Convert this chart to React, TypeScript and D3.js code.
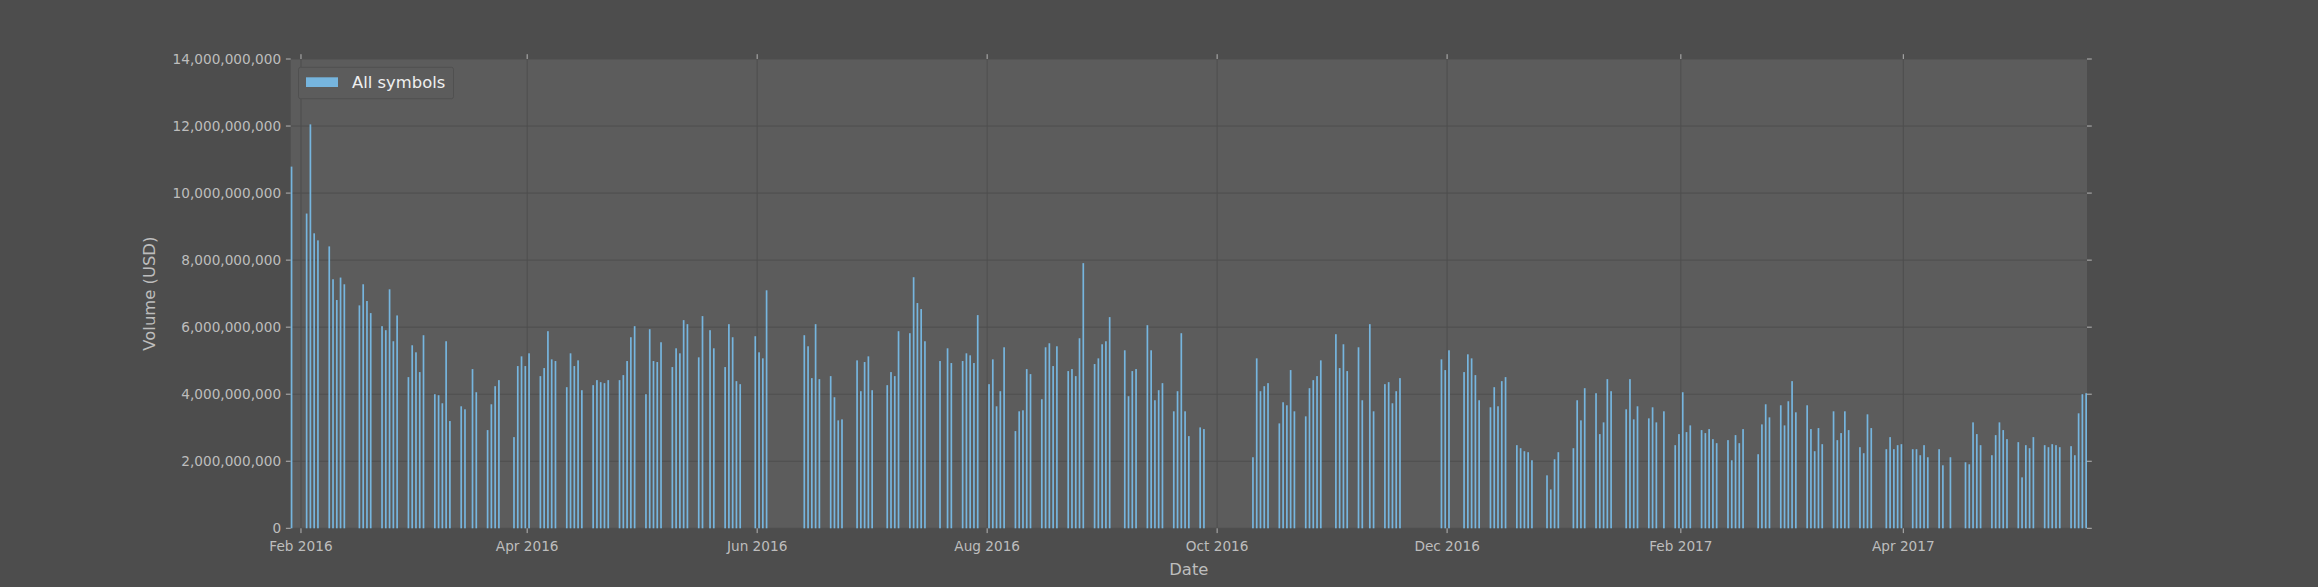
import React from "react";
import * as d3 from "d3";

// Daily traded volume (USD, billions)
const volumes2016: [string, number][] = [
  ["2016-01-29", 10.79],
  ["2016-02-02", 9.39], ["2016-02-03", 12.05], ["2016-02-04", 8.8], ["2016-02-05", 8.59],
  ["2016-02-08", 8.41], ["2016-02-09", 7.43], ["2016-02-10", 6.81], ["2016-02-11", 7.48], ["2016-02-12", 7.28],
  ["2016-02-16", 6.65], ["2016-02-17", 7.28], ["2016-02-18", 6.78], ["2016-02-19", 6.42],
  ["2016-02-22", 6.03], ["2016-02-23", 5.91], ["2016-02-24", 7.13], ["2016-02-25", 5.58], ["2016-02-26", 6.35],
  ["2016-02-29", 4.51], ["2016-03-01", 5.46], ["2016-03-02", 5.25], ["2016-03-03", 4.66], ["2016-03-04", 5.76],
  ["2016-03-07", 4.0], ["2016-03-08", 3.97], ["2016-03-09", 3.73], ["2016-03-10", 5.58], ["2016-03-11", 3.2],
  ["2016-03-14", 3.64], ["2016-03-15", 3.55], ["2016-03-17", 4.75], ["2016-03-18", 4.06],
  ["2016-03-21", 2.93], ["2016-03-22", 3.7], ["2016-03-23", 4.24], ["2016-03-24", 4.42],
  ["2016-03-28", 2.72], ["2016-03-29", 4.84], ["2016-03-30", 5.13], ["2016-03-31", 4.84], ["2016-04-01", 5.22],
  ["2016-04-04", 4.54], ["2016-04-05", 4.78], ["2016-04-06", 5.88], ["2016-04-07", 5.04], ["2016-04-08", 4.99],
  ["2016-04-11", 4.21], ["2016-04-12", 5.22], ["2016-04-13", 4.84], ["2016-04-14", 5.01], ["2016-04-15", 4.12],
  ["2016-04-18", 4.27], ["2016-04-19", 4.42], ["2016-04-20", 4.36], ["2016-04-21", 4.33], ["2016-04-22", 4.42],
  ["2016-04-25", 4.42], ["2016-04-26", 4.57], ["2016-04-27", 4.99], ["2016-04-28", 5.7], ["2016-04-29", 6.03],
  ["2016-05-02", 4.0], ["2016-05-03", 5.94], ["2016-05-04", 4.99], ["2016-05-05", 4.96], ["2016-05-06", 5.55],
  ["2016-05-09", 4.81], ["2016-05-10", 5.37], ["2016-05-11", 5.22], ["2016-05-12", 6.21], ["2016-05-13", 6.09],
  ["2016-05-16", 5.1], ["2016-05-17", 6.33], ["2016-05-19", 5.91], ["2016-05-20", 5.37],
  ["2016-05-23", 4.81], ["2016-05-24", 6.09], ["2016-05-25", 5.7], ["2016-05-26", 4.39], ["2016-05-27", 4.3],
  ["2016-05-31", 5.73], ["2016-06-01", 5.25], ["2016-06-02", 5.07], ["2016-06-03", 7.1],
  ["2016-06-13", 5.76], ["2016-06-14", 5.43], ["2016-06-15", 4.48], ["2016-06-16", 6.09], ["2016-06-17", 4.45],
  ["2016-06-20", 4.54], ["2016-06-21", 3.91], ["2016-06-22", 3.22], ["2016-06-23", 3.25],
  ["2016-06-27", 5.01], ["2016-06-28", 4.09], ["2016-06-29", 4.96], ["2016-06-30", 5.13], ["2016-07-01", 4.12],
  ["2016-07-05", 4.27], ["2016-07-06", 4.66], ["2016-07-07", 4.54], ["2016-07-08", 5.88],
  ["2016-07-11", 5.82], ["2016-07-12", 7.49], ["2016-07-13", 6.72], ["2016-07-14", 6.54], ["2016-07-15", 5.58],
  ["2016-07-19", 4.99], ["2016-07-21", 5.37], ["2016-07-22", 4.93],
  ["2016-07-25", 4.99], ["2016-07-26", 5.22], ["2016-07-27", 5.16], ["2016-07-28", 4.93], ["2016-07-29", 6.36],
  ["2016-08-01", 4.3], ["2016-08-02", 5.04], ["2016-08-03", 3.64], ["2016-08-04", 4.09], ["2016-08-05", 5.4],
  ["2016-08-08", 2.9], ["2016-08-09", 3.49], ["2016-08-10", 3.52], ["2016-08-11", 4.75], ["2016-08-12", 4.6],
  ["2016-08-15", 3.85], ["2016-08-16", 5.4], ["2016-08-17", 5.52], ["2016-08-18", 4.84], ["2016-08-19", 5.43],
  ["2016-08-22", 4.69], ["2016-08-23", 4.75], ["2016-08-24", 4.54], ["2016-08-25", 5.67], ["2016-08-26", 7.91],
  ["2016-08-29", 4.9], ["2016-08-30", 5.07], ["2016-08-31", 5.49], ["2016-09-01", 5.58], ["2016-09-02", 6.3],
  ["2016-09-06", 5.31], ["2016-09-07", 3.94], ["2016-09-08", 4.69], ["2016-09-09", 4.75],
  ["2016-09-12", 6.06], ["2016-09-13", 5.31], ["2016-09-14", 3.82], ["2016-09-15", 4.12], ["2016-09-16", 4.33],
  ["2016-09-19", 3.49], ["2016-09-20", 4.09], ["2016-09-21", 5.82], ["2016-09-22", 3.49], ["2016-09-23", 2.75],
  ["2016-09-26", 3.01], ["2016-09-27", 2.96],
  ["2016-10-10", 2.12], ["2016-10-11", 5.07], ["2016-10-12", 4.09], ["2016-10-13", 4.24], ["2016-10-14", 4.33],
  ["2016-10-17", 3.13], ["2016-10-18", 3.76], ["2016-10-19", 3.67], ["2016-10-20", 4.72], ["2016-10-21", 3.49],
  ["2016-10-24", 3.34], ["2016-10-25", 4.18], ["2016-10-26", 4.42], ["2016-10-27", 4.54], ["2016-10-28", 5.01],
  ["2016-11-01", 5.79], ["2016-11-02", 4.78], ["2016-11-03", 5.49], ["2016-11-04", 4.69],
  ["2016-11-07", 5.4], ["2016-11-08", 3.82], ["2016-11-10", 6.09], ["2016-11-11", 3.49],
  ["2016-11-14", 4.3], ["2016-11-15", 4.36], ["2016-11-16", 3.73], ["2016-11-17", 4.09], ["2016-11-18", 4.48],
  ["2016-11-29", 5.04], ["2016-11-30", 4.72], ["2016-12-01", 5.31],
  ["2016-12-05", 4.66], ["2016-12-06", 5.19], ["2016-12-07", 5.07], ["2016-12-08", 4.57], ["2016-12-09", 3.82],
  ["2016-12-12", 3.61], ["2016-12-13", 4.21], ["2016-12-14", 3.64], ["2016-12-15", 4.39], ["2016-12-16", 4.51],
  ["2016-12-19", 2.48], ["2016-12-20", 2.39], ["2016-12-21", 2.3], ["2016-12-22", 2.27], ["2016-12-23", 2.03],
  ["2016-12-27", 1.58], ["2016-12-28", 1.16], ["2016-12-29", 2.06], ["2016-12-30", 2.27],
];

const volumes2017: [string, number][] = [
  ["2017-01-03", 2.39], ["2017-01-04", 3.82], ["2017-01-05", 3.22], ["2017-01-06", 4.18],
  ["2017-01-09", 4.03], ["2017-01-10", 2.81], ["2017-01-11", 3.16], ["2017-01-12", 4.45], ["2017-01-13", 4.09],
  ["2017-01-17", 3.55], ["2017-01-18", 4.45], ["2017-01-19", 3.25], ["2017-01-20", 3.64],
  ["2017-01-23", 3.28], ["2017-01-24", 3.61], ["2017-01-25", 3.16], ["2017-01-27", 3.49],
  ["2017-01-30", 2.48], ["2017-01-31", 2.81], ["2017-02-01", 4.06], ["2017-02-02", 2.87], ["2017-02-03", 3.07],
  ["2017-02-06", 2.93], ["2017-02-07", 2.84], ["2017-02-08", 2.96], ["2017-02-09", 2.66], ["2017-02-10", 2.54],
  ["2017-02-13", 2.63], ["2017-02-14", 2.03], ["2017-02-15", 2.78], ["2017-02-16", 2.54], ["2017-02-17", 2.96],
  ["2017-02-21", 2.21], ["2017-02-22", 3.1], ["2017-02-23", 3.7], ["2017-02-24", 3.31],
  ["2017-02-27", 3.67], ["2017-02-28", 3.07], ["2017-03-01", 3.79], ["2017-03-02", 4.39], ["2017-03-03", 3.46],
  ["2017-03-06", 3.67], ["2017-03-07", 2.96], ["2017-03-08", 2.3], ["2017-03-09", 2.99], ["2017-03-10", 2.51],
  ["2017-03-13", 3.49], ["2017-03-14", 2.63], ["2017-03-15", 2.84], ["2017-03-16", 3.49], ["2017-03-17", 2.93],
  ["2017-03-20", 2.42], ["2017-03-21", 2.24], ["2017-03-22", 3.4], ["2017-03-23", 2.99],
  ["2017-03-27", 2.36], ["2017-03-28", 2.72], ["2017-03-29", 2.36], ["2017-03-30", 2.48], ["2017-03-31", 2.51],
  ["2017-04-03", 2.36], ["2017-04-04", 2.36], ["2017-04-05", 2.18], ["2017-04-06", 2.48], ["2017-04-07", 2.12],
  ["2017-04-10", 2.36], ["2017-04-11", 1.88], ["2017-04-13", 2.12],
  ["2017-04-17", 1.97], ["2017-04-18", 1.91], ["2017-04-19", 3.16], ["2017-04-20", 2.81], ["2017-04-21", 2.48],
  ["2017-04-24", 2.18], ["2017-04-25", 2.78], ["2017-04-26", 3.16], ["2017-04-27", 2.93], ["2017-04-28", 2.66],
  ["2017-05-01", 2.57], ["2017-05-02", 1.52], ["2017-05-03", 2.48], ["2017-05-04", 2.39], ["2017-05-05", 2.72],
  ["2017-05-08", 2.48], ["2017-05-09", 2.42], ["2017-05-10", 2.51], ["2017-05-11", 2.48], ["2017-05-12", 2.42],
  ["2017-05-15", 2.45], ["2017-05-16", 2.18], ["2017-05-17", 3.43], ["2017-05-18", 4.0], ["2017-05-19", 4.03],
];

const yTickValues = [0, 2e9, 4e9, 6e9, 8e9, 10e9, 12e9, 14e9];
const xTickDates = [
  "2016-02-01", "2016-04-01", "2016-06-01", "2016-08-01",
  "2016-10-01", "2016-12-01", "2017-02-01", "2017-04-01",
];
const seriesName = "All symbols";
const xLabel = "Date";
const yLabel = "Volume (USD)";

const W = 2318;
const H = 587;
const M = { left: 290.7, right: 2087, top: 59, bottom: 528.3 };
const FONT = "'DejaVu Sans', sans-serif";
const C = {
  fig: "#4d4d4d",
  axes: "#5c5c5c",
  grid: "#4e4e4e",
  bar: "#76b5de",
  tick: "#b4b4b4",
  text: "#bdbdbd",
  legendText: "#efefef",
};

export default function App() {
  const parse = d3.utcParse("%Y-%m-%d");
  const DAY = 864e5;
  const data = [...volumes2016, ...volumes2017].map(([d, v]) => ({
    date: parse(d) as Date,
    value: v * 1e9,
  }));
  const first = data[0].date;
  const last = data[data.length - 1].date;
  const x = d3
    .scaleUtc()
    .domain([new Date(+first + 0.275 * DAY), new Date(+last + 0.725 * DAY)])
    .range([M.left, M.right]);
  const y = d3.scaleLinear().domain([0, 14e9]).range([M.bottom, M.top]);
  const fmtY = d3.format(",");
  const fmtX = d3.utcFormat("%b %Y");
  const xt = xTickDates.map((s) => parse(s) as Date);
  const tickLen = 4.8;

  return (
    <div style={{ position: "fixed", left: 0, top: 0, width: W, height: H, background: C.fig }}>
      <svg width={W} height={H} style={{ display: "block" }} fontFamily={FONT}>
        <rect x={0} y={0} width={W} height={H} fill={C.fig} />
        <rect x={M.left} y={M.top} width={M.right - M.left} height={M.bottom - M.top} fill={C.axes} />
        {/* grid */}
        {yTickValues.map((v) => (
          <line key={"gy" + v} x1={M.left} x2={M.right} y1={y(v)} y2={y(v)} stroke={C.grid} strokeWidth={1} />
        ))}
        {xt.map((d) => (
          <line key={"gx" + +d} x1={x(d)} x2={x(d)} y1={M.top} y2={M.bottom} stroke={C.grid} strokeWidth={1} />
        ))}
        {/* bars */}
        {data.map((d) => {
          const x0 = x(new Date(+d.date + 0.275 * DAY));
          const x1 = x(new Date(+d.date + 0.725 * DAY));
          return (
            <rect
              key={+d.date}
              x={x0}
              width={x1 - x0}
              y={y(d.value)}
              height={y(0) - y(d.value)}
              fill={C.bar}
            />
          );
        })}
        {/* y ticks left & right */}
        {yTickValues.map((v) => (
          <g key={"ty" + v}>
            <line x1={M.left - tickLen} x2={M.left} y1={y(v)} y2={y(v)} stroke={C.tick} strokeWidth={1} />
            <line x1={M.right} x2={M.right + tickLen} y1={y(v)} y2={y(v)} stroke={C.tick} strokeWidth={1} />
            <text x={M.left - 2 * tickLen} y={y(v)} dy="0.36em" textAnchor="end" fontSize={13.65} fill={C.text}>
              {fmtY(v)}
            </text>
          </g>
        ))}
        {/* x ticks bottom & top */}
        {xt.map((d) => (
          <g key={"tx" + +d}>
            <line x1={x(d)} x2={x(d)} y1={M.bottom} y2={M.bottom + tickLen} stroke={C.tick} strokeWidth={1} />
            <line x1={x(d)} x2={x(d)} y1={M.top - tickLen} y2={M.top} stroke={C.tick} strokeWidth={1} />
            <text x={x(d)} y={551} textAnchor="middle" fontSize={13.65} fill={C.text}>
              {fmtX(d)}
            </text>
          </g>
        ))}
        {/* axis labels */}
        <text x={(M.left + M.right) / 2} y={575} textAnchor="middle" fontSize={16.4} fill={C.text}>
          {xLabel}
        </text>
        <text
          transform={`translate(155, ${(M.top + M.bottom) / 2}) rotate(-90)`}
          textAnchor="middle"
          fontSize={16.4}
          fill={C.text}
        >
          {yLabel}
        </text>
        {/* legend */}
        <rect x={298.5} y={67.3} width={155} height={31.4} fill={C.axes} stroke="#505050" strokeWidth={1} rx={2} />
        <rect x={306} y={77.3} width={32} height={9.7} fill={C.bar} />
        <text x={352} y={88.3} fontSize={16.4} fill={C.legendText}>
          {seriesName}
        </text>
      </svg>
    </div>
  );
}
